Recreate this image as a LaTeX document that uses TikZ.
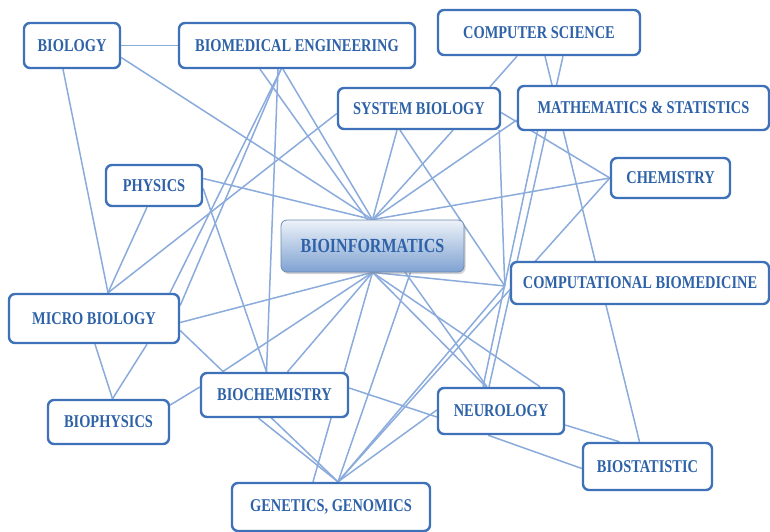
\documentclass[tikz,border=0pt]{standalone}
\usepackage{fontspec}
\newfontfamily\lblfont[FakeStretch=0.8]{Liberation Serif}
\usepackage{xcolor}
\definecolor{tpblue}{HTML}{3F71B8}
\definecolor{tptext}{HTML}{2E62A8}
\definecolor{tplink}{HTML}{8AABDB}
\definecolor{hubtop}{HTML}{EDF2F9}
\definecolor{hubbot}{HTML}{7FA2D1}
\usetikzlibrary{backgrounds,shadows}

\begin{document}
\begin{tikzpicture}[x=1pt,y=-1pt]
\tikzset{
 t/.style={draw=tpblue,line width=2.4pt,rounded corners=6pt,fill=white,inner sep=0pt,text=tptext,font={\lblfont\bfseries\fontsize{18}{20}\selectfont}},
 hub/.style={draw=hubbot!85!black,line width=0.8pt,rounded corners=6pt,top color=hubtop,bottom color=hubbot,inner sep=0pt,text=tptext,font={\lblfont\bfseries\fontsize{20}{22}\selectfont},drop shadow={shadow xshift=1.5pt,shadow yshift=-2pt,opacity=0.35}},
 l/.style={draw=tplink,line width=1.5pt}
}
\useasboundingbox (0,0) rectangle (770,532);
\node[t,minimum width=96pt,minimum height=45pt] (bio) at (72,45.5) {BIOLOGY};
\node[t,minimum width=236pt,minimum height=45pt] (bme) at (297,45.5) {BIOMEDICAL ENGINEERING};
\node[t,minimum width=202pt,minimum height=45pt] (cs) at (539,32.5) {COMPUTER SCIENCE};
\node[t,minimum width=162pt,minimum height=41pt] (sb) at (419,108.5) {SYSTEM BIOLOGY};
\node[t,minimum width=251pt,minimum height=44pt] (math) at (643.5,108) {MATHEMATICS \& STATISTICS};
\node[t,minimum width=96pt,minimum height=41pt] (phy) at (154,185.5) {PHYSICS};
\node[t,minimum width=119pt,minimum height=40pt] (chem) at (670.5,178) {CHEMISTRY};
\node[hub,minimum width=183pt,minimum height=52pt] (bi) at (372.5,246) {BIOINFORMATICS};
\node[t,minimum width=258pt,minimum height=42pt] (cb) at (640,283) {COMPUTATIONAL BIOMEDICINE};
\node[t,minimum width=170pt,minimum height=49pt] (mb) at (94,318.5) {MICRO BIOLOGY};
\node[t,minimum width=147pt,minimum height=44pt] (bc) at (274.5,395) {BIOCHEMISTRY};
\node[t,minimum width=121pt,minimum height=44pt] (bp) at (108.5,422) {BIOPHYSICS};
\node[t,minimum width=126pt,minimum height=46pt] (neu) at (501,411) {NEUROLOGY};
\node[t,minimum width=129pt,minimum height=47pt] (bst) at (647.5,466.5) {BIOSTATISTIC};
\node[t,minimum width=198pt,minimum height=48pt] (gg) at (331,507) {GENETICS, GENOMICS};
% meeting points of the links
\coordinate (mbtop) at ([xshift=14pt]mb.north);
\coordinate (gghub) at ([xshift=7pt]gg.north);
\coordinate (cbhub) at ([xshift=-5pt,yshift=-3pt]cb.west);
\coordinate (neutop) at ([xshift=-15pt]neu.north);
\coordinate (bctop) at ([xshift=-8pt]bc.north);
\coordinate (bmebot) at ([xshift=-16pt]bme.south);
\begin{scope}[on background layer]
\foreach \i/\j in {{(bio.east)}/{(bme.west)},{([yshift=-12pt]bio.east)}/{(bi.north)},{([xshift=-9pt]bio.south)}/{(mbtop)},
 {(bmebot)}/{([xshift=76pt]mb.north)},{(bmebot)}/{([yshift=13pt]mb.east)},{([xshift=-19pt]bme.south)}/{(bctop)},
 {([xshift=-14pt]bme.south)}/{(bi.north)},{([xshift=-37pt]bme.south)}/{([xshift=-14pt]neu.north)},
 {([yshift=-5pt]sb.west)}/{(mbtop)},{([xshift=-22pt]sb.south)}/{(bi.north)},{([xshift=34pt]sb.south)}/{(bi.north)},
 {([xshift=-19pt]sb.south)}/{(cbhub)},{([yshift=-4pt]sb.east)}/{(chem.west)},{([xshift=-2pt]sb.south east)}/{(cbhub)},
 {([xshift=-22pt]cs.south)}/{([xshift=71pt]sb.north)},{([xshift=6pt]cs.south)}/{([xshift=-8pt]bst.north)},
 {([xshift=24pt]cs.south)}/{([xshift=-12pt]neu.north)},{([yshift=-12pt]math.west)}/{(bi.north)},
 {([xshift=-106pt]math.south)}/{([xshift=-18pt]neu.north)},{(bi.north)}/{(chem.west)},
 {([yshift=7pt]phy.east)}/{(bi.north)},{([xshift=-7pt]phy.south)}/{(mbtop)},{([yshift=-3pt]phy.east)}/{(bctop)},
 {([yshift=-4pt]mb.east)}/{(bi.south)},{([yshift=-12pt]mb.east)}/{(gghub)},
 {([xshift=1pt]mb.south)}/{([xshift=4pt]bp.north)},{([xshift=53pt]mb.south)}/{([xshift=4pt]bp.north)},
 {([yshift=17pt]bp.east)}/{([yshift=8pt]bc.west)},{([xshift=-52pt]bc.north)}/{(bi.south)},{([xshift=13pt]bc.north)}/{(bi.south)},
 {(bi.south)}/{([xshift=-18pt]gg.north)},{([yshift=7pt]bc.east)}/{([yshift=-6pt]neu.west)},{([xshift=-16pt]bc.south)}/{(gghub)},
 {(gghub)}/{([xshift=38pt]bi.south)},{(gghub)}/{(cbhub)},{(gghub)}/{(chem.west)},{(gghub)}/{([yshift=1pt]neu.west)},
 {(bi.south)}/{(neutop)},{(bi.south)}/{([xshift=39pt]neu.north)},{(bi.south)}/{(cbhub)},
 {([yshift=-14pt]neu.east)}/{([xshift=-28pt]bst.north)},{([xshift=-13pt]neu.south)}/{([yshift=-2pt]bst.west)}}{\draw[l] \i--\j;}
\end{scope}
\end{tikzpicture}
\end{document}
